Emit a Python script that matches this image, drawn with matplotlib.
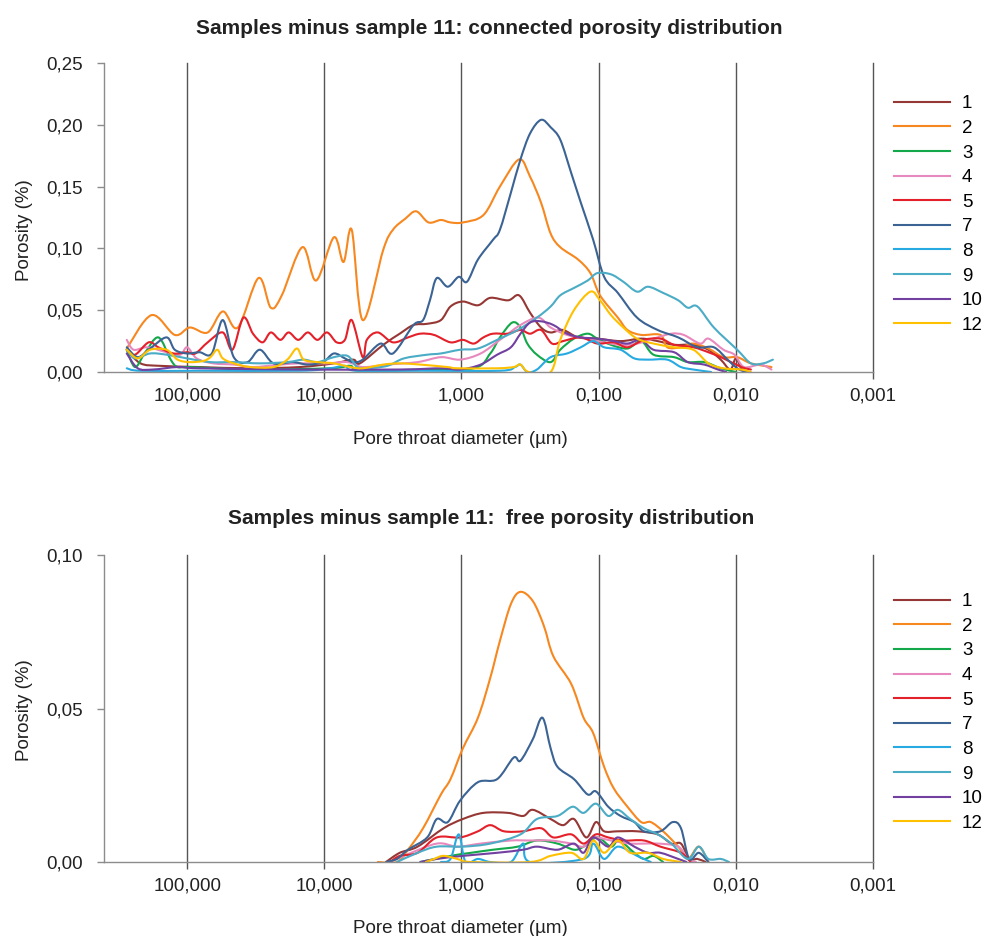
import numpy as np
import matplotlib
matplotlib.use("Agg")
import matplotlib.pyplot as plt
from matplotlib.path import Path
from matplotlib.patches import PathPatch
from matplotlib.lines import Line2D
from matplotlib.ticker import FixedLocator, FixedFormatter, FuncFormatter, NullLocator

plt.rcParams['font.family'] = ['Liberation Sans', 'DejaVu Sans']

# series names and colours (legend order)
labels = ["1", "2", "3", "4", "5", "7", "8", "9", "10", "12"]
colors = ["#953735", "#F7871F", "#13A84A", "#E889BD", "#E4202A",
          "#3B6393", "#27AAE1", "#4BACC6", "#7140A0", "#FFC000"]

# x tick positions (pore throat diameter, um) and their labels
xticks = [100, 10, 1, 0.1, 0.01, 0.001]
xticklabels = ["100,000", "10,000", "1,000", "0,100", "0,010", "0,001"]

# ---- connected porosity: (log10 diameter, porosity) ----
con_1 = [(2.44, .018), (2.34, .007), (2.20, .005), (1.91, .004), (1.54, .003), (1.18, .004),
         (0.93, .007), (0.79, .010), (0.74, .007), (0.57, .022), (0.45, .031), (0.35, .038),
         (0.25, .039), (0.15, .042), (0.08, .053), (-0.01, .057), (-0.12, .054), (-0.21, .060),
         (-0.34, .058), (-0.42, .062), (-0.50, .048), (-0.58, .036), (-0.65, .032), (-0.74, .034),
         (-0.85, .028), (-0.99, .027), (-1.16, .025), (-1.31, .027), (-1.43, .025), (-1.55, .022),
         (-1.69, .022), (-1.80, .018), (-1.89, .010), (-1.96, .002), (-2.00, .011), (-2.04, .003),
         (-2.09, .000)]
con_2 = [(2.44, .019), (2.26, .046), (2.09, .030), (1.98, .036), (1.85, .032), (1.74, .049),
         (1.63, .036), (1.48, .076), (1.39, .052), (1.31, .062), (1.16, .101), (1.06, .074),
         (0.93, .109), (0.86, .089), (0.80, .115), (0.72, .042), (0.57, .099), (0.50, .115),
         (0.41, .124), (0.33, .130), (0.24, .121), (0.15, .123), (0.08, .121), (-0.01, .121),
         (-0.16, .127), (-0.28, .150), (-0.42, .172), (-0.50, .158), (-0.58, .137), (-0.65, .112),
         (-0.72, .101), (-0.85, .091), (-0.94, .080), (-1.01, .062), (-1.14, .044), (-1.21, .034),
         (-1.31, .030), (-1.45, .030), (-1.50, .020), (-1.60, .020), (-1.69, .023), (-1.80, .019),
         (-1.91, .012), (-2.01, .012), (-2.11, .007), (-2.26, .004)]
con_3 = [(2.44, .018), (2.38, .004), (2.31, .015), (2.21, .028), (2.12, .010), (2.07, .004),
         (1.98, .004), (1.54, .002), (0.96, .003), (0.81, .005), (0.74, .001), (0.30, .002),
         (-0.09, .003), (-0.21, .015), (-0.28, .028), (-0.37, .040), (-0.43, .036), (-0.48, .023),
         (-0.55, .014), (-0.65, .008), (-0.72, .018), (-0.82, .027), (-0.92, .031), (-0.99, .027),
         (-1.09, .022), (-1.21, .019), (-1.31, .025), (-1.40, .014), (-1.55, .012), (-1.65, .008),
         (-1.77, .008), (-1.89, .003), (-2.00, .000)]
con_4 = [(2.44, .026), (2.39, .018), (2.29, .020), (2.15, .016), (2.05, .014), (2.00, .020),
         (1.93, .011), (1.81, .007), (1.66, .006), (1.52, .004), (1.32, .006), (1.18, .007),
         (0.98, .007), (0.83, .008), (0.72, .004), (0.54, .006), (0.32, .008), (0.15, .012),
         (0.01, .010), (-0.14, .015), (-0.28, .026), (-0.43, .038), (-0.56, .044), (-0.65, .036),
         (-0.77, .030), (-0.87, .028), (-0.99, .025), (-1.16, .022), (-1.28, .023), (-1.40, .027),
         (-1.53, .031), (-1.62, .030), (-1.74, .023), (-1.80, .027), (-1.91, .018), (-1.99, .014),
         (-2.06, .004), (-2.18, .006), (-2.26, .002)]
con_5 = [(2.44, .018), (2.38, .014), (2.28, .024), (2.21, .020), (2.10, .015), (2.00, .016),
         (1.94, .015), (1.85, .024), (1.74, .032), (1.67, .018), (1.59, .044), (1.52, .031),
         (1.45, .024), (1.39, .032), (1.32, .026), (1.26, .032), (1.19, .026), (1.12, .032),
         (1.05, .026), (0.98, .032), (0.91, .024), (0.85, .026), (0.80, .042), (0.72, .012),
         (0.69, .026), (0.61, .032), (0.50, .024), (0.39, .028), (0.30, .031), (0.20, .030),
         (0.08, .024), (-0.01, .026), (-0.09, .023), (-0.16, .028), (-0.23, .031), (-0.34, .031),
         (-0.43, .034), (-0.50, .031), (-0.58, .034), (-0.66, .023), (-0.74, .025), (-0.87, .028),
         (-0.99, .023), (-1.11, .024), (-1.21, .020), (-1.33, .026), (-1.45, .027), (-1.55, .022),
         (-1.69, .020), (-1.80, .016), (-1.91, .011), (-2.04, .004), (-2.11, .002)]
con_7 = [(2.44, .020), (2.36, .012), (2.27, .019), (2.15, .028), (2.09, .018), (2.00, .015),
         (1.91, .016), (1.82, .015), (1.74, .042), (1.66, .012), (1.56, .008), (1.47, .018),
         (1.37, .007), (1.23, .008), (1.12, .006), (1.01, .008), (0.93, .015), (0.85, .011),
         (0.79, .008), (0.72, .010), (0.59, .023), (0.50, .015), (0.35, .038), (0.28, .042),
         (0.23, .058), (0.18, .076), (0.10, .069), (0.02, .077), (-0.04, .073), (-0.12, .091),
         (-0.23, .107), (-0.28, .115), (-0.36, .145), (-0.43, .172), (-0.50, .193), (-0.58, .204),
         (-0.65, .198), (-0.72, .188), (-0.80, .161), (-0.87, .137), (-0.96, .107), (-1.04, .077),
         (-1.14, .064), (-1.28, .044), (-1.43, .034), (-1.58, .028), (-1.72, .020), (-1.84, .020),
         (-1.94, .010), (-2.01, .003), (-2.07, .000)]
con_8 = [(2.44, .003), (2.34, .001), (1.91, .001), (1.18, .001), (0.96, .003), (0.85, .005),
         (0.77, .001), (0.30, .001), (-0.28, .001), (-0.39, .004), (-0.43, .006), (-0.48, .000),
         (-0.55, .002), (-0.65, .012), (-0.77, .015), (-0.87, .020), (-0.96, .025), (-1.04, .020),
         (-1.16, .018), (-1.26, .011), (-1.36, .010), (-1.50, .010), (-1.60, .004), (-1.69, .002),
         (-1.82, .000)]
con_9 = [(2.44, .018), (2.38, .011), (2.27, .015), (2.15, .014), (2.00, .011), (1.83, .008),
         (1.66, .008), (1.47, .007), (1.27, .008), (1.15, .010), (1.05, .008), (0.93, .012),
         (0.83, .013), (0.76, .004), (0.69, .003), (0.54, .005), (0.42, .011), (0.25, .014),
         (0.15, .015), (0.01, .018), (-0.12, .019), (-0.26, .026), (-0.41, .034), (-0.55, .044),
         (-0.65, .053), (-0.72, .062), (-0.82, .068), (-0.92, .074), (-0.99, .080), (-1.09, .079),
         (-1.18, .073), (-1.28, .065), (-1.36, .069), (-1.47, .064), (-1.58, .058), (-1.65, .052),
         (-1.72, .053), (-1.84, .036), (-2.01, .018), (-2.11, .007), (-2.20, .007), (-2.27, .010)]
con_10 = [(2.44, .015), (2.36, .003), (2.25, .002), (2.07, .004), (1.91, .003), (1.18, .002),
          (0.45, .002), (0.15, .003), (0.01, .002), (-0.14, .006), (-0.26, .014), (-0.36, .020),
          (-0.43, .031), (-0.50, .040), (-0.58, .041), (-0.67, .038), (-0.77, .031), (-0.87, .028),
          (-0.99, .027), (-1.11, .025), (-1.21, .023), (-1.31, .026), (-1.40, .018), (-1.55, .016),
          (-1.65, .008), (-1.77, .006), (-1.87, .002), (-1.93, .000)]
con_12 = [(2.44, .018), (2.36, .011), (2.27, .018), (2.15, .018), (2.07, .010), (1.98, .008),
          (1.88, .009), (1.83, .012), (1.78, .018), (1.74, .011), (1.66, .007), (1.54, .004),
          (1.37, .004), (1.27, .010), (1.20, .019), (1.15, .010), (1.05, .008), (0.93, .007),
          (0.81, .004), (0.72, .003), (0.57, .006), (0.45, .007), (0.30, .006), (0.10, .004),
          (0.03, .003), (-0.26, .003), (-0.38, .004), (-0.43, .006), (-0.49, .000), (-0.65, .000),
          (-0.72, .026), (-0.82, .050), (-0.94, .065), (-1.01, .058), (-1.09, .046), (-1.18, .036),
          (-1.28, .027), (-1.40, .023), (-1.55, .020), (-1.69, .018), (-1.80, .007), (-1.91, .003),
          (-2.04, .002), (-2.11, .000)]

# ---- free porosity: (log10 diameter, porosity) ----
free_1 = [(0.55, 0), (0.45, .003), (0.32, .005), (0.13, .011), (-0.01, .014), (-0.16, .016),
          (-0.34, .016), (-0.45, .015), (-0.52, .017), (-0.65, .014), (-0.74, .012), (-0.82, .014),
          (-0.91, .008), (-0.98, .013), (-1.04, .010), (-1.14, .010), (-1.28, .010), (-1.43, .009),
          (-1.53, .006), (-1.60, .006), (-1.66, .001), (-1.72, .001), (-1.78, 0)]
free_2 = [(0.61, 0), (0.47, 0), (0.39, .004), (0.28, .011), (0.15, .022), (0.08, .027),
          (-0.01, .037), (-0.12, .047), (-0.21, .060), (-0.28, .072), (-0.36, .084), (-0.43, .088),
          (-0.52, .085), (-0.60, .077), (-0.67, .067), (-0.80, .058), (-0.89, .047), (-0.96, .042),
          (-1.04, .031), (-1.11, .024), (-1.21, .018), (-1.31, .013), (-1.38, .013), (-1.47, .010),
          (-1.58, .005), (-1.65, .001), (-1.73, .005), (-1.80, 0)]
free_3 = [(0.30, 0), (0.08, .002), (-0.07, .003), (-0.23, .004), (-0.41, .005), (-0.55, .007),
          (-0.70, .006), (-0.82, .004), (-0.89, .005), (-0.99, .008), (-1.09, .005), (-1.15, .007),
          (-1.26, .003), (-1.33, .001), (-1.40, .002), (-1.47, 0)]
free_4 = [(0.52, 0), (0.42, .002), (0.18, .006), (0.03, .005), (-0.14, .006), (-0.36, .007),
          (-0.50, .007), (-0.65, .007), (-0.80, .006), (-0.89, .005), (-0.96, .008), (-1.09, .007),
          (-1.23, .006), (-1.43, .006), (-1.58, .005), (-1.65, .001), (-1.71, 0)]
free_5 = [(0.52, 0), (0.45, .002), (0.32, .003), (0.18, .008), (0.01, .008), (-0.12, .010),
          (-0.21, .012), (-0.31, .010), (-0.45, .010), (-0.58, .011), (-0.67, .008), (-0.80, .009),
          (-0.89, .006), (-0.98, .009), (-1.07, .008), (-1.18, .007), (-1.33, .007), (-1.45, .005),
          (-1.60, .003), (-1.67, 0)]
free_7 = [(0.55, 0), (0.47, .001), (0.39, .004), (0.25, .008), (0.18, .014), (0.10, .013),
          (0.01, .020), (-0.12, .026), (-0.26, .027), (-0.38, .034), (-0.43, .033), (-0.52, .040),
          (-0.59, .047), (-0.65, .037), (-0.70, .031), (-0.82, .027), (-0.92, .022), (-0.98, .023),
          (-1.07, .018), (-1.16, .015), (-1.26, .013), (-1.33, .010), (-1.45, .010), (-1.54, .013),
          (-1.60, .011), (-1.66, .001), (-1.73, .003), (-1.80, 0)]
free_8 = [(0.15, 0), (0.08, .001), (0.02, .009), (-0.03, 0), (-0.12, .001), (-0.21, 0),
          (-0.36, 0), (-0.45, .006), (-0.50, 0), (-0.89, .001), (-0.96, .006), (-1.04, .001),
          (-1.14, .005), (-1.28, .002), (-1.38, 0)]
free_9 = [(0.47, 0), (0.32, .003), (0.18, .005), (-0.01, .005), (-0.21, .006), (-0.43, .009),
          (-0.55, .014), (-0.70, .015), (-0.81, .018), (-0.89, .016), (-0.98, .019), (-1.07, .015),
          (-1.14, .017), (-1.23, .014), (-1.33, .011), (-1.43, .009), (-1.53, .006), (-1.65, .001),
          (-1.73, .005), (-1.80, .001), (-1.89, .001), (-1.95, 0)]
free_10 = [(0.30, 0), (0.18, .001), (-0.01, .002), (-0.26, .003), (-0.45, .004), (-0.55, .005),
           (-0.70, .004), (-0.82, .006), (-0.89, .003), (-0.96, .008), (-1.07, .005), (-1.14, .008),
           (-1.26, .005), (-1.36, .003), (-1.45, .003), (-1.58, .001), (-1.64, 0)]
free_12 = [(0.26, 0), (0.20, .001), (0.13, .002), (0.03, .001), (-0.07, 0), (-0.50, 0),
           (-0.65, .002), (-0.80, .003), (-0.89, .001), (-0.96, .007), (-1.04, .003), (-1.14, .007),
           (-1.23, .003), (-1.36, .003), (-1.47, .001), (-1.60, 0)]

connected = [con_1, con_2, con_3, con_4, con_5, con_7, con_8, con_9, con_10, con_12]
free = [free_1, free_2, free_3, free_4, free_5, free_7, free_8, free_9, free_10, free_12]

fig = plt.figure(figsize=(9.86, 9.36), dpi=100)
ax_top = fig.add_axes([104 / 986, 1 - 372 / 936, 769 / 986, 309 / 936])
ax_bot = fig.add_axes([104 / 986, 1 - 862 / 936, 769 / 986, 307 / 936])

comma = FuncFormatter(lambda v, p: f"{v:.2f}".replace(".", ","))


def smooth_path(pts):
    # smoothed line through the read points (like a spreadsheet "smoothed line")
    p = np.array(pts, dtype=float)
    ext = np.vstack([p[0], p, p[-1]])
    verts = [p[0]]
    codes = [Path.MOVETO]
    for i in range(1, len(ext) - 2):
        c1 = ext[i] + (ext[i + 1] - ext[i - 1]) / 6
        c2 = ext[i + 1] - (ext[i + 2] - ext[i]) / 6
        verts += [c1, c2, ext[i + 1]]
        codes += [Path.CURVE4] * 3
    verts = np.array(verts)
    verts[:, 0] = 10 ** verts[:, 0]
    return Path(verts, codes)


def style(ax, series, ymax, ystep, leg_y, ylab_y):
    handles = []
    for pts, lab, col in zip(series, labels, colors):
        ax.add_patch(PathPatch(smooth_path(pts), fill=False, edgecolor=col, lw=1.5,
                               joinstyle='round', capstyle='round'))
        handles.append(Line2D([], [], color=col, lw=1.5, label=lab))
    ax.set_xscale('log')
    ax.set_xlim(10 ** 2.606, 0.001)
    ax.set_ylim(0, ymax)
    ax.xaxis.set_major_locator(FixedLocator(xticks))
    ax.xaxis.set_major_formatter(FixedFormatter(xticklabels))
    ax.xaxis.set_minor_locator(NullLocator())
    ax.set_yticks(np.arange(0, ymax + 1e-9, ystep))
    ax.yaxis.set_major_formatter(comma)
    for t in xticks:
        ax.axvline(t, color='#555555', lw=1.0, zorder=0.5, clip_on=False)
    for s in ['top', 'right']:
        ax.spines[s].set_visible(False)
    for s in ['left', 'bottom']:
        ax.spines[s].set_color('#8c8c8c')
        ax.spines[s].set_linewidth(1.0)
    ax.tick_params(axis='y', direction='out', length=5, width=1, color='#8c8c8c',
                   pad=10, labelsize=13.5, labelcolor='#222222')
    ax.tick_params(axis='x', direction='out', length=5, width=1, color='#555555',
                   pad=6, labelsize=13.5, labelcolor='#222222')
    ax.set_xlabel("Pore throat diameter (µm)", fontsize=13.5, color='#222222')
    ax.xaxis.set_label_coords(0.463, -0.19)
    ax.set_ylabel("Porosity (%)", fontsize=13.5, color='#222222')
    ax.yaxis.set_label_coords(-0.092, ylab_y)
    ax.legend(handles=handles, loc='upper left', bbox_to_anchor=(1.027, leg_y),
              frameon=False, fontsize=13.5, handlelength=3.0, handletextpad=0.64,
              labelspacing=0.4, borderpad=0, borderaxespad=0)


style(ax_top, connected, 0.25, 0.05, 0.896, 0.46)
style(ax_bot, free, 0.10, 0.05, 0.876, 0.495)

fig.text(0.4965, 1 - 28 / 936, "Samples minus sample 11: connected porosity distribution",
         ha='center', va='center', fontsize=15, fontweight='bold', color='#222222')
fig.text(0.4985, 1 - 519 / 936, "Samples minus sample 11:  free porosity distribution",
         ha='center', va='center', fontsize=15, fontweight='bold', color='#222222')

fig.savefig("out.png", dpi=100)
